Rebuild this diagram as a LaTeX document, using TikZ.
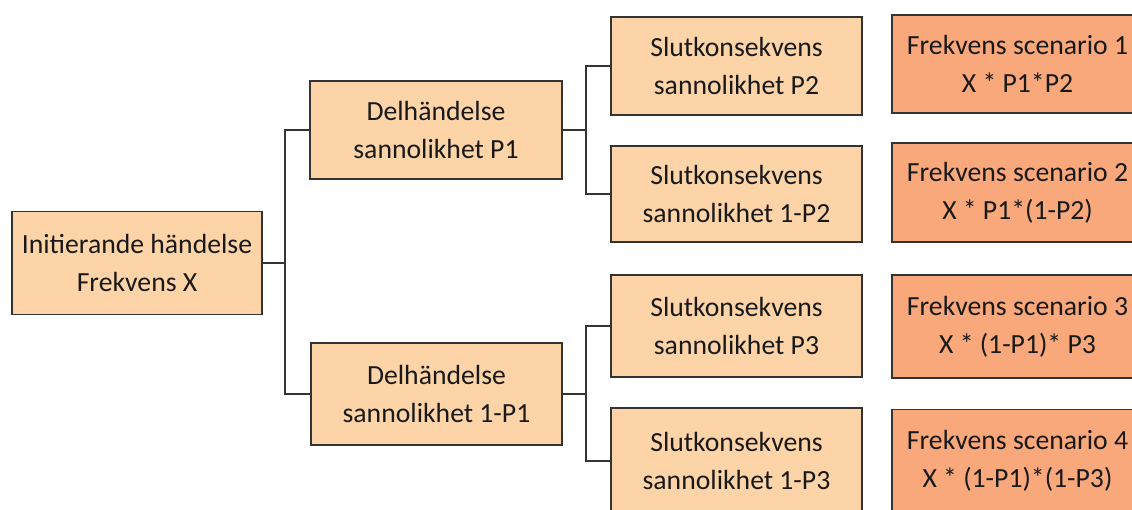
\documentclass[tikz,border=0pt]{standalone}
\usepackage{fontspec}
\setmainfont{Carlito}
\definecolor{boxlight}{HTML}{FDD4A8}
\definecolor{boxdark}{HTML}{F9A87C}
\definecolor{edge}{HTML}{333333}
\begin{document}
\begin{tikzpicture}[x=1pt,y=1pt,
  box/.style={draw=edge, line width=1.8pt, fill=boxlight, align=center,
    inner sep=0pt, font=\fontsize{27.7}{38}\selectfont, text=black!90},
  res/.style={box, fill=boxdark},
  conn/.style={draw=edge, line width=2pt}]
\useasboundingbox (0,0) rectangle (1132,-509);
\clip (0,0) rectangle (1132,-509);
\fill[white] (0,0) rectangle (1132,-509);
\node[box, minimum width=250pt, minimum height=103pt] (init) at (137,-263) {Initierande händelse\\Frekvens X};
\node[box, minimum width=252pt, minimum height=98pt] (d1) at (436,-130) {Delhändelse\\sannolikhet P1};
\node[box, minimum width=251pt, minimum height=102pt] (d2) at (436.5,-394) {Delhändelse\\sannolikhet 1-P1};
\node[box, minimum width=251pt, minimum height=98pt] (s1) at (736.5,-66) {Slutkonsekvens\\sannolikhet P2};
\node[box, minimum width=251pt, minimum height=96pt] (s2) at (736.5,-194) {Slutkonsekvens\\sannolikhet 1-P2};
\node[box, minimum width=251pt, minimum height=102pt] (s3) at (736.5,-326) {Slutkonsekvens\\sannolikhet P3};
\node[box, minimum width=251pt, minimum height=106pt] (s4) at (736.5,-461) {Slutkonsekvens\\sannolikhet 1-P3};
\node[res, minimum width=251pt, minimum height=98pt] (r1) at (1017.5,-64) {Frekvens scenario 1\\X * P1*P2};
\node[res, minimum width=251pt, minimum height=99pt] (r2) at (1017.5,-192.5) {Frekvens scenario 2\\X * P1*(1-P2)};
\node[res, minimum width=251pt, minimum height=103pt] (r3) at (1017.5,-326.5) {Frekvens scenario 3\\X * (1-P1)* P3};
\node[res, minimum width=251pt, minimum height=103pt] (r4) at (1017.5,-461) {Frekvens scenario 4\\X * (1-P1)*(1-P3)};
\coordinate (j1) at (285,-263);
\coordinate (j2) at (586,-130);
\coordinate (j3) at (586,-394);
\draw[conn] (init.east) -- (j1);
\draw[conn] (d1.west) -| (j1) |- (d2.west);
\draw[conn] (d1.east) -- (j2);
\draw[conn] (s1.west) -| (j2) |- (s2.west);
\draw[conn] (d2.east) -- (j3);
\draw[conn] (s3.west) -| (j3) |- (s4.west);
\end{tikzpicture}
\end{document}
